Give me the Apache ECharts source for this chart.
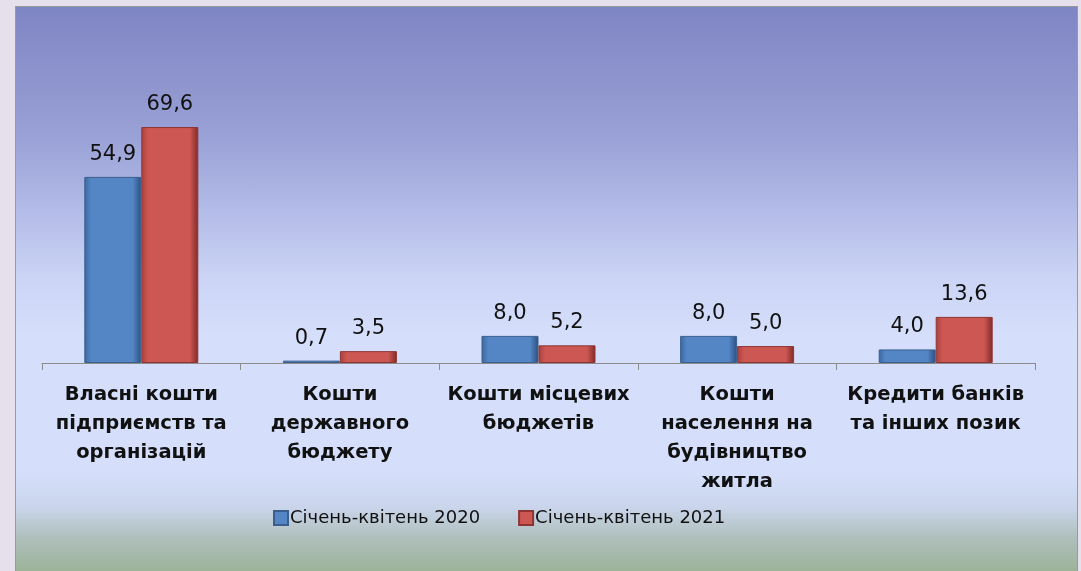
<!DOCTYPE html>
<html>
<head>
<meta charset="utf-8">
<script src="https://cdn.jsdelivr.net/npm/echarts@6/dist/echarts.min.js"></script>
<style>
  html, body { margin: 0; padding: 0; background: #e5e0eb; overflow: hidden; }
  #box {
    position: absolute; left: 15px; top: 6px; width: 1061px; height: 600px;
    border: 1px solid #9a9a9a;
    background: linear-gradient(to bottom,
      #7e85c3 0px, #9aa1d6 130px, #b2bae7 200px, #cbd4f5 270px,
      #d5dffb 330px, #d5dffb 465px, #cad5ec 500px, #b0c0bd 530px, #9cb298 565px);
  }
  #chart { position: absolute; left: 0; top: 0; width: 1081px; height: 571px; }
</style>
</head>
<body>
<div id="box"></div>
<div id="chart"></div>
<script>
  const categories = [
    'Власні кошти\nпідприємств та\nорганізацій',
    'Кошти\nдержавного\nбюджету',
    'Кошти місцевих\nбюджетів',
    'Кошти\nнаселення на\nбудівництво\nжитла',
    'Кредити банків\nта інших позик'
  ]
  const seriesNames = ['Січень-квітень 2020', 'Січень-квітень 2021']
  const values2020 = [54.9, 0.7, 8.0, 8.0, 4.0]
  const values2021 = [69.6, 3.5, 5.2, 5.0, 13.6]

  const chart = echarts.init(document.getElementById('chart'), null, { renderer: 'canvas' })

  function bevel(left, mid, right) {
    return new echarts.graphic.LinearGradient(0, 0, 1, 0, [
      { offset: 0, color: left },
      { offset: 0.12, color: mid },
      { offset: 0.85, color: mid },
      { offset: 1, color: right }
    ])
  }

  const labelStyle = {
    show: true,
    position: 'top',
    distance: 12,
    fontFamily: 'DejaVu Sans',
    fontSize: 21,
    color: '#111',
    formatter: p => p.value.toFixed(1).replace('.', ',')
  }

  chart.setOption({
    animation: false,
    backgroundColor: 'transparent',
    grid: {
      left: 42,
      right: 46,
      top: 24,
      bottom: 208
    },
    legend: {
      data: seriesNames,
      top: 504,
      left: 268,
      icon: 'rect',
      itemWidth: 14,
      itemHeight: 14,
      itemGap: 38,
      textStyle: {
        fontFamily: 'DejaVu Sans',
        fontSize: 18,
        color: '#111',
        padding: [0, 0, 0, -3]
      }
    },
    xAxis: {
      type: 'category',
      data: categories,
      axisLine: { lineStyle: { color: '#8c8c8c', width: 1 } },
      axisTick: { show: true, length: 7, lineStyle: { color: '#8c8c8c' } },
      axisLabel: {
        interval: 0,
        margin: 17,
        fontFamily: 'DejaVu Sans',
        fontWeight: 'bold',
        fontSize: 19.5,
        lineHeight: 29,
        color: '#111'
      }
    },
    yAxis: {
      type: 'value',
      min: 0,
      max: 100,
      show: false,
      splitLine: { show: false }
    },
    series: [
      {
        name: seriesNames[0],
        type: 'bar',
        data: values2020,
        barWidth: 57,
        barGap: '0%',
        itemStyle: {
          color: bevel('#3a67a0', '#5486c6', '#2b4f7e'),
          borderColor: '#3a5f8f',
          borderWidth: 1
        },
        label: labelStyle
      },
      {
        name: seriesNames[1],
        type: 'bar',
        data: values2021,
        barWidth: 57,
        barGap: '0%',
        itemStyle: {
          color: bevel('#a9403d', '#cc5753', '#7f2a28'),
          borderColor: '#8e3533',
          borderWidth: 1
        },
        label: labelStyle
      }
    ]
  })
</script>
</body>
</html>
